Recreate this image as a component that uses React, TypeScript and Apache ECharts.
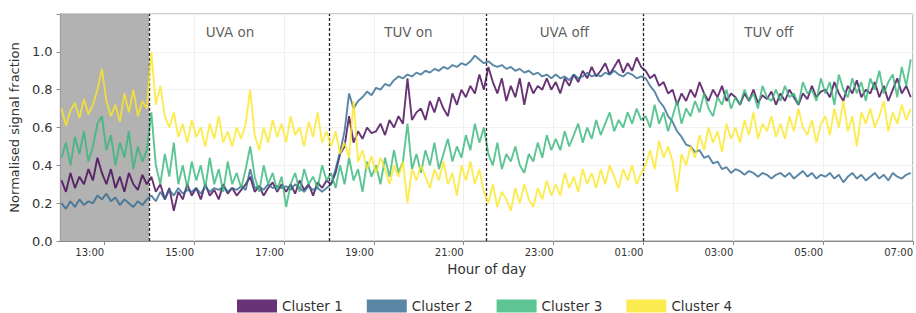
import React, { useEffect, useRef } from "react";
import * as echarts from "echarts";

// ---- axis / layout data ----
const START_HOUR = 12.05;
const STEP_HOURS = 0.1;
const X_MIN = 12.03;
const X_MAX = 31.0;
const TICK_HOURS = [13, 15, 17, 19, 21, 23, 25, 27, 29, 31];
const Y_MIN = 0;
const Y_MAX = 1.2;
const Y_INTERVAL = 0.2;
const SHADED_RANGE = [12.03, 14.0];
const PHASE_BOUNDS = [14, 18, 21.5, 25];
const PHASE_NAMES = ["UVA on", "TUV on", "UVA off", "TUV off"];
const PHASE_LABEL_HOURS = [15.8, 19.77, 23.24, 27.79];
const PHASE_LABEL_LEVEL = 1.105;

const SERIES_NAMES = ["Cluster 1", "Cluster 2", "Cluster 3", "Cluster 4"];
const SERIES_COLORS = ["#440154", "#31688e", "#35b779", "#fde725"];

// ---- series values (one value every 6 minutes from 12:03) ----
const CLUSTER_1 = [
  0.32, 0.26, 0.36, 0.28, 0.34, 0.30, 0.38, 0.32, 0.44, 0.36,
  0.30, 0.38, 0.28, 0.34, 0.26, 0.36, 0.30, 0.27, 0.35, 0.30,
  0.34, 0.26, 0.30, 0.22, 0.28, 0.16, 0.26, 0.22, 0.30, 0.24,
  0.28, 0.22, 0.30, 0.24, 0.27, 0.22, 0.30, 0.25, 0.28, 0.24,
  0.27, 0.30, 0.34, 0.26, 0.29, 0.24, 0.28, 0.31, 0.26, 0.30,
  0.26, 0.30, 0.25, 0.32, 0.27, 0.30, 0.24, 0.31, 0.28, 0.32,
  0.30, 0.36, 0.46, 0.50, 0.66, 0.52, 0.58, 0.54, 0.60, 0.57,
  0.58, 0.62, 0.56, 0.64, 0.60, 0.66, 0.62, 0.86, 0.64, 0.68,
  0.70, 0.64, 0.74, 0.68, 0.76, 0.70, 0.66, 0.78, 0.72, 0.80,
  0.76, 0.82, 0.78, 0.88, 0.80, 0.92, 0.84, 0.78, 0.86, 0.74,
  0.82, 0.76, 0.86, 0.72, 0.84, 0.78, 0.82, 0.80, 0.86, 0.80,
  0.84, 0.78, 0.86, 0.82, 0.88, 0.84, 0.90, 0.86, 0.92, 0.87,
  0.90, 0.94, 0.88, 0.92, 0.96, 0.89, 0.94, 0.90, 0.97, 0.92,
  0.90, 0.86, 0.88, 0.82, 0.84, 0.78, 0.80, 0.72, 0.78, 0.74,
  0.80, 0.76, 0.84, 0.78, 0.74, 0.80, 0.76, 0.82, 0.74, 0.78,
  0.76, 0.72, 0.78, 0.74, 0.80, 0.73, 0.77, 0.75, 0.79, 0.72,
  0.78, 0.74, 0.80, 0.76, 0.72, 0.78, 0.75, 0.82, 0.76, 0.79,
  0.80, 0.76, 0.84, 0.78, 0.74, 0.82, 0.78, 0.85, 0.76, 0.80,
  0.78, 0.84, 0.76, 0.82, 0.74, 0.80, 0.86, 0.78, 0.82, 0.76,
];

const CLUSTER_2 = [
  0.20, 0.17, 0.21, 0.18, 0.22, 0.19, 0.21, 0.20, 0.24, 0.22,
  0.25, 0.21, 0.23, 0.19, 0.22, 0.20, 0.18, 0.21, 0.19, 0.22,
  0.24, 0.21, 0.26, 0.22, 0.27, 0.24, 0.28, 0.25, 0.27, 0.26,
  0.28, 0.25, 0.29, 0.26, 0.28, 0.27, 0.29, 0.26, 0.28, 0.27,
  0.29, 0.27, 0.38, 0.28, 0.29, 0.27, 0.30, 0.28, 0.29, 0.28,
  0.29, 0.27, 0.30, 0.28, 0.26, 0.29, 0.27, 0.28, 0.26, 0.28,
  0.30, 0.38, 0.47, 0.58, 0.78, 0.70, 0.74, 0.76, 0.79, 0.77,
  0.81, 0.80, 0.83, 0.82, 0.85, 0.87, 0.86, 0.88, 0.87, 0.89,
  0.88, 0.90, 0.89, 0.91, 0.90, 0.92, 0.91, 0.93, 0.92, 0.94,
  0.93, 0.95, 0.98, 0.96, 0.94, 0.95, 0.93, 0.92, 0.93, 0.91,
  0.92, 0.90, 0.91, 0.89, 0.90, 0.88, 0.89, 0.87, 0.88, 0.86,
  0.88, 0.86, 0.87, 0.85, 0.88, 0.86, 0.87, 0.89, 0.87, 0.88,
  0.87, 0.89, 0.88, 0.90, 0.88, 0.87, 0.89, 0.88, 0.86, 0.87,
  0.86, 0.82, 0.79, 0.74, 0.71, 0.66, 0.63, 0.58, 0.55, 0.51,
  0.50, 0.47, 0.48, 0.44, 0.45, 0.41, 0.42, 0.38, 0.39, 0.36,
  0.38, 0.37, 0.35, 0.37, 0.36, 0.34, 0.36, 0.35, 0.33, 0.35,
  0.36, 0.34, 0.36, 0.33, 0.35, 0.37, 0.34, 0.36, 0.33, 0.35,
  0.34, 0.36, 0.33, 0.35, 0.31, 0.34, 0.36, 0.33, 0.35, 0.32,
  0.34, 0.36, 0.33, 0.35, 0.32, 0.36, 0.34, 0.33, 0.35, 0.36,
];

const CLUSTER_3 = [
  0.44, 0.52, 0.40, 0.55, 0.46, 0.58, 0.42, 0.50, 0.62, 0.66,
  0.48, 0.56, 0.40, 0.52, 0.44, 0.58, 0.38, 0.50, 0.42, 0.48,
  0.68, 0.40, 0.30, 0.46, 0.34, 0.52, 0.30, 0.40, 0.28, 0.42,
  0.32, 0.40, 0.28, 0.44, 0.30, 0.38, 0.26, 0.42, 0.30, 0.36,
  0.28, 0.38, 0.50, 0.34, 0.26, 0.40, 0.30, 0.36, 0.27, 0.34,
  0.18, 0.30, 0.36, 0.26, 0.38, 0.30, 0.34, 0.28, 0.40, 0.32,
  0.36, 0.28, 0.40, 0.30, 0.44, 0.32, 0.38, 0.26, 0.42, 0.34,
  0.40, 0.30, 0.44, 0.34, 0.48, 0.36, 0.42, 0.62, 0.38, 0.46,
  0.36, 0.48, 0.40, 0.52, 0.38, 0.46, 0.54, 0.42, 0.50, 0.44,
  0.56, 0.48, 0.62, 0.52, 0.60, 0.46, 0.40, 0.52, 0.38, 0.46,
  0.42, 0.50, 0.40, 0.36, 0.46, 0.42, 0.52, 0.44, 0.56, 0.48,
  0.54, 0.48, 0.58, 0.50, 0.56, 0.62, 0.52, 0.60, 0.54, 0.64,
  0.56, 0.62, 0.68, 0.58, 0.64, 0.60, 0.68, 0.62, 0.70, 0.64,
  0.66, 0.60, 0.72, 0.62, 0.68, 0.58, 0.66, 0.74, 0.62, 0.70,
  0.66, 0.74, 0.68, 0.78, 0.70, 0.66, 0.76, 0.72, 0.80, 0.70,
  0.76, 0.72, 0.80, 0.74, 0.78, 0.70, 0.82, 0.76, 0.74, 0.80,
  0.74, 0.82, 0.76, 0.78, 0.72, 0.84, 0.78, 0.80, 0.74, 0.86,
  0.78, 0.84, 0.72, 0.88, 0.80, 0.76, 0.86, 0.78, 0.84, 0.74,
  0.86, 0.80, 0.90, 0.78, 0.84, 0.88, 0.76, 0.92, 0.82, 0.96,
];

const CLUSTER_4 = [
  0.70, 0.61, 0.69, 0.73, 0.65, 0.75, 0.67, 0.72, 0.80, 0.91,
  0.74, 0.66, 0.72, 0.63, 0.78, 0.68, 0.80, 0.66, 0.74, 0.70,
  1.00, 0.72, 0.82, 0.66, 0.60, 0.68, 0.55, 0.62, 0.52, 0.64,
  0.55, 0.60, 0.50, 0.62, 0.54, 0.66, 0.52, 0.58, 0.50, 0.60,
  0.54, 0.62, 0.80, 0.56, 0.48, 0.60, 0.52, 0.64, 0.55, 0.62,
  0.52, 0.66, 0.56, 0.60, 0.50, 0.63, 0.55, 0.68, 0.52, 0.58,
  0.50, 0.58, 0.46, 0.52, 0.44, 0.74, 0.42, 0.48, 0.38, 0.45,
  0.36, 0.44, 0.38, 0.30, 0.40, 0.34, 0.42, 0.20, 0.38, 0.32,
  0.40, 0.34, 0.28, 0.38, 0.32, 0.42, 0.30, 0.36, 0.24, 0.40,
  0.32, 0.42, 0.30, 0.38, 0.26, 0.20, 0.30, 0.18, 0.26, 0.22,
  0.16, 0.28, 0.20, 0.30, 0.22, 0.18, 0.28, 0.22, 0.32, 0.24,
  0.30, 0.24, 0.36, 0.28, 0.34, 0.26, 0.38, 0.30, 0.36, 0.28,
  0.38, 0.30, 0.40, 0.34, 0.28, 0.38, 0.32, 0.40, 0.30, 0.36,
  0.40, 0.48, 0.38, 0.53, 0.44, 0.50, 0.42, 0.26, 0.46, 0.40,
  0.50, 0.44, 0.56, 0.48, 0.60, 0.52, 0.58, 0.47, 0.62, 0.54,
  0.60, 0.52, 0.64, 0.56, 0.68, 0.54, 0.62, 0.58, 0.66, 0.55,
  0.62, 0.54, 0.66, 0.58, 0.70, 0.60, 0.56, 0.64, 0.52, 0.62,
  0.66, 0.56, 0.70, 0.60, 0.74, 0.58, 0.66, 0.50, 0.68, 0.62,
  0.70, 0.60, 0.66, 0.74, 0.58, 0.68, 0.62, 0.72, 0.64, 0.70,
];

const CLUSTERS = [CLUSTER_1, CLUSTER_2, CLUSTER_3, CLUSTER_4];

const FONT = "DejaVu Sans";

function hourLabel(h: number): string {
  const hh = ((Math.round(h) % 24) + 24) % 24;
  return String(hh).padStart(2, "0") + ":00";
}

export default function App() {
  const ref = useRef<HTMLDivElement>(null);

  useEffect(() => {
    if (!ref.current) return;
    const chart = echarts.init(ref.current, undefined, { renderer: "svg" });

    const lineSeries = CLUSTERS.map((vals, i) => ({
      type: "line",
      name: SERIES_NAMES[i],
      data: vals.map((v, k) => [START_HOUR + k * STEP_HOURS, v]),
      showSymbol: false,
      symbol: "none",
      z: 2 + i,
      lineStyle: { color: SERIES_COLORS[i], width: 1.9, opacity: 0.8 },
      itemStyle: { color: SERIES_COLORS[i], opacity: 0.8 },
      emphasis: { disabled: true },
    }));

    const option: any = {
      animation: false,
      textStyle: { fontFamily: FONT },
      grid: {
        left: 58,
        right: 0,
        top: 14,
        bottom: 72,
        show: true,
        borderColor: "#9a9a9a",
        borderWidth: 1.2,
      },
      legend: {
        data: SERIES_NAMES,
        left: 232,
        top: 294,
        icon: "rect",
        itemWidth: 40,
        itemHeight: 13,
        itemGap: 24,
        textStyle: { fontFamily: FONT, fontSize: 13.5, color: "#333" },
      },
      xAxis: {
        type: "value",
        min: X_MIN,
        max: X_MAX,
        name: "Hour of day",
        nameLocation: "middle",
        nameGap: 19,
        nameTextStyle: { fontFamily: FONT, fontSize: 13.5, color: "#333" },
        axisLine: { show: true, lineStyle: { color: "#8a8a8a", width: 1.2 } },
        axisTick: {
          show: true,
          length: 4,
          customValues: TICK_HOURS,
          lineStyle: { color: "#8a8a8a" },
        },
        axisLabel: {
          customValues: TICK_HOURS,
          formatter: (v: number) => hourLabel(v),
          align: "right",
          margin: 6,
          fontFamily: FONT,
          fontSize: 10,
          color: "#333",
        },
        splitLine: { show: true, lineStyle: { color: "#efefef", width: 1 } },
      },
      yAxis: {
        type: "value",
        min: Y_MIN,
        max: Y_MAX,
        interval: Y_INTERVAL,
        name: "Normalised signal fraction",
        nameLocation: "middle",
        nameGap: 28,
        nameTextStyle: { fontFamily: FONT, fontSize: 13, color: "#333" },
        axisLine: { show: true, lineStyle: { color: "#8a8a8a", width: 1.2 } },
        axisTick: { show: true, length: 4, lineStyle: { color: "#8a8a8a" } },
        axisLabel: {
          formatter: (v: number) => (v > 1.05 ? "" : v.toFixed(1)),
          margin: 8,
          fontFamily: FONT,
          fontSize: 13,
          color: "#333",
        },
        splitLine: { show: true, lineStyle: { color: "#f2f2f2", width: 1 } },
      },
      series: [
        {
          type: "line",
          name: "_shade",
          data: [],
          silent: true,
          markArea: {
            silent: true,
            itemStyle: { color: "#b2b2b2", opacity: 1 },
            data: [[{ xAxis: SHADED_RANGE[0] }, { xAxis: SHADED_RANGE[1] }]],
          },
        },
        ...lineSeries,
        {
          type: "line",
          name: "_bounds",
          data: [],
          silent: true,
          markLine: {
            silent: true,
            symbol: ["none", "none"],
            label: { show: false },
            lineStyle: { color: "#222", type: [3, 2], width: 1.3 },
            data: PHASE_BOUNDS.map((x) => ({ xAxis: x })),
          },
        },
        {
          type: "scatter",
          name: "_phases",
          silent: true,
          symbolSize: 0,
          data: PHASE_NAMES.map((n, i) => ({
            name: n,
            value: [PHASE_LABEL_HOURS[i], PHASE_LABEL_LEVEL],
          })),
          label: {
            show: true,
            position: "inside",
            formatter: "{b}",
            fontFamily: FONT,
            fontSize: 13.5,
            color: "#333",
          },
        },
      ],
    };

    chart.setOption(option);
    return () => chart.dispose();
  }, []);

  return (
    <div
      ref={ref}
      style={{ position: "fixed", left: 0, top: 0, width: 916, height: 313, background: "#fff" }}
    />
  );
}
